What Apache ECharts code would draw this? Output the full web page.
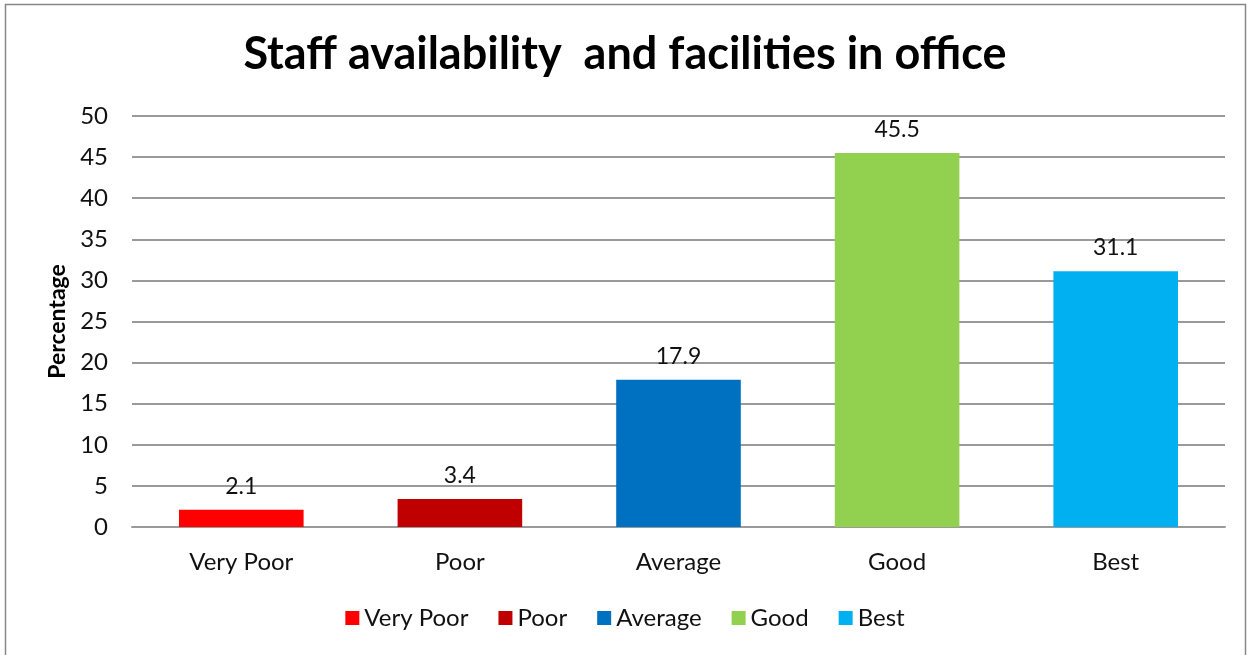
<!DOCTYPE html>
<html>
<head>
<meta charset="utf-8">
<script src="https://cdn.jsdelivr.net/npm/echarts@6/dist/echarts.min.js"></script>
<style>
  html, body { margin: 0; padding: 0; background: #fff; }
  #chart { width: 1250px; height: 655px; }
</style>
</head>
<body>
<div id="chart"></div>
<script>
const categories = ['Very Poor', 'Poor', 'Average', 'Good', 'Best']
const values = [2.1, 3.4, 17.9, 45.5, 31.1]
const colors = ['#FF0000', '#C00000', '#0070C0', '#92D050', '#00B0F0']
const yTicks = { min: 0, max: 50, interval: 5 }

const font = 'Lato, "Open Sans", sans-serif'

const chart = echarts.init(document.getElementById('chart'))

// one series per category so the legend lists each one, stacked so bars sit centred
const series = categories.map((name, i) => ({
  name,
  type: 'bar',
  stack: 'all',
  barWidth: '57%',
  itemStyle: { color: colors[i] },
  label: {
    show: true,
    position: 'top',
    distance: 12,
    color: '#111',
    fontSize: 23,
    fontFamily: font
  },
  data: categories.map((_, j) => (j === i ? values[i] : '-'))
}))

chart.setOption({
  animation: false,
  title: {
    text: 'Staff availability  and facilities in office',
    left: 'center',
    top: 27,
    textStyle: { fontSize: 45, fontWeight: 'bold', color: '#000', fontFamily: font }
  },
  legend: {
    bottom: 20,
    left: 'center',
    itemWidth: 14,
    itemHeight: 14,
    itemGap: 30,
    icon: 'rect',
    textStyle: { fontSize: 24, color: '#111', fontFamily: font }
  },
  grid: { left: 132, right: 25, top: 116, bottom: 128 },
  xAxis: {
    type: 'category',
    data: categories,
    axisTick: { show: false },
    axisLine: { lineStyle: { color: '#9a9a9a', width: 2 } },
    axisLabel: { fontSize: 24, color: '#111', margin: 23, fontFamily: font }
  },
  yAxis: {
    type: 'value',
    min: yTicks.min,
    max: yTicks.max,
    interval: yTicks.interval,
    name: 'Percentage',
    nameLocation: 'middle',
    nameGap: 62,
    nameTextStyle: { fontSize: 23, fontWeight: 'bold', color: '#000', fontFamily: font },
    axisLine: { show: false },
    axisTick: { show: false },
    splitLine: { lineStyle: { color: '#9a9a9a', width: 2 } },
    axisLabel: { fontSize: 24, color: '#111', margin: 24, fontFamily: font }
  },
  graphic: [{
    type: 'rect',
    shape: { x: 5.5, y: 4.5, width: 1240, height: 660 },
    style: { fill: 'none', stroke: '#888', lineWidth: 1.5 },
    silent: true
  }],
  series
})
</script>
</body>
</html>
